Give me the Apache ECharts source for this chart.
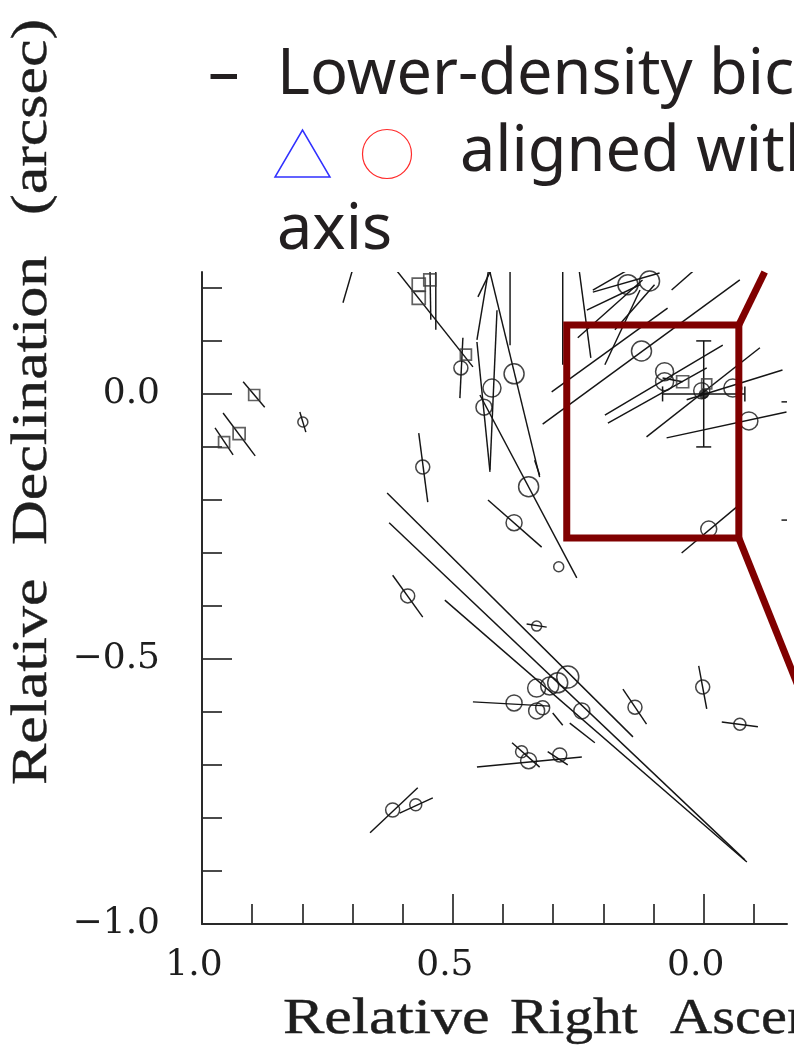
<!DOCTYPE html>
<html>
<head>
<meta charset="utf-8">
<script src="https://cdn.jsdelivr.net/npm/echarts@6/dist/echarts.min.js"></script>
<style>
  html, body { margin: 0; padding: 0; background: #ffffff; }
  #chart { width: 794px; height: 1049px; }
</style>
</head>
<body>
<div id="chart"></div>
<script>
// Axis tick values (arcsec)
const raMajor = [1.0, 0.5, 0.0];
const raMinor = [0.9, 0.8, 0.7, 0.6, 0.4, 0.3, 0.2, 0.1, -0.1];
const decMajor = [0.0, -0.5, -1.0];
const decMinor = [0.2, 0.1, -0.1, -0.2, -0.3, -0.4, -0.6, -0.7, -0.8, -0.9];

// Maser spots drawn as circles: [RA offset, Dec offset, relative peak]
const circleSpots = [
  [0.484, 0.049, 7], [0.422, 0.011, 9], [0.378, 0.038, 10], [0.438, -0.025, 8],
  [0.560, -0.138, 7], [0.349, -0.175, 10], [0.378, -0.243, 8], [0.289, -0.326, 5],
  [0.590, -0.381, 7], [0.333, -0.438, 5], [0.799, -0.053, 5], [0.271, -0.534, 11],
  [0.291, -0.545, 10], [0.307, -0.551, 9], [0.333, -0.555, 9], [0.378, -0.583, 8],
  [0.333, -0.598, 8], [0.321, -0.592, 7], [0.243, -0.598, 8], [0.363, -0.675, 6],
  [0.349, -0.692, 8], [0.287, -0.681, 7], [0.137, -0.591, 7], [0.002, -0.553, 7],
  [-0.072, -0.623, 6], [0.620, -0.785, 7], [0.574, -0.775, 6], [0.124, 0.081, 10],
  [0.078, 0.042, 9], [0.078, 0.023, 9], [-0.058, 0.011, 9], [-0.090, -0.051, 9],
  [-0.010, -0.255, 8], [0.004, 0.006, 8], [0.151, 0.206, 10], [0.108, 0.213, 10]
];

// Maser spots drawn as squares: [RA offset, Dec offset, relative peak]
const squareSpots = [
  [0.896, -0.002, 5.5], [0.926, -0.075, 6], [0.956, -0.091, 5.5], [0.568, 0.206, 6.5],
  [0.568, 0.181, 6.5], [0.546, 0.215, 6], [0.474, 0.074, 5.5], [0.042, 0.023, 6],
  [-0.006, 0.019, 5]
];

// Reference spot and its position uncertainty [RA err, Dec err]
const refSpot = [[0.0, 0.0]];
const refError = [0.082, 0.1];

// Polarization vectors: [RA start, Dec start, RA end, Dec end]
const vectors = [
  [0.918, 0.023, 0.875, -0.025], [0.958, -0.036, 0.894, -0.117], [0.974, -0.064, 0.938, -0.115],
  [0.805, -0.034, 0.793, -0.072], [0.719, 0.172, 0.692, 0.260], [0.629, 0.253, 0.460, 0.051],
  [0.534, 0.260, 0.534, 0.121], [0.546, 0.260, 0.544, 0.140], [0.480, 0.106, 0.486, -0.008],
  [0.568, -0.074, 0.550, -0.204], [0.450, 0.183, 0.414, 0.253], [0.452, 0.098, 0.426, -0.147],
  [0.412, 0.158, 0.426, -0.143], [0.432, 0.253, 0.327, -0.157], [0.446, -0.002, 0.253, -0.347],
  [0.386, 0.260, 0.386, 0.092], [0.281, 0.260, 0.281, 0.055], [0.251, 0.253, 0.225, 0.068],
  [0.337, -0.125, 0.327, -0.153], [0.430, -0.200, 0.323, -0.289], [0.620, -0.342, 0.560, -0.421],
  [0.353, -0.434, 0.313, -0.440], [0.631, -0.187, 0.141, -0.647], [0.627, -0.243, -0.082, -0.879],
  [0.516, -0.389, -0.086, -0.883], [0.460, -0.581, 0.307, -0.589], [0.452, -0.704, 0.243, -0.685],
  [0.382, -0.658, 0.327, -0.704], [0.311, -0.675, 0.271, -0.700], [0.161, -0.557, 0.114, -0.623],
  [0.010, -0.513, -0.006, -0.594], [-0.036, -0.619, -0.108, -0.628], [0.044, -0.300, -0.066, -0.213],
  [0.267, -0.621, 0.217, -0.658], [0.301, -0.602, 0.281, -0.625], [0.665, -0.828, 0.570, -0.743],
  [0.606, -0.791, 0.540, -0.762], [0.321, -0.057, -0.072, 0.215], [0.303, 0.004, 0.072, 0.162],
  [0.197, -0.040, -0.038, 0.092], [0.191, -0.055, -0.006, 0.049], [0.114, -0.081, -0.112, 0.087],
  [0.074, -0.083, -0.165, -0.034], [0.034, -0.011, -0.157, 0.045], [0.221, 0.196, 0.140, 0.240],
  [0.064, 0.196, 0.005, 0.245], [0.197, 0.055, 0.127, 0.196], [0.251, 0.106, 0.122, 0.215],
  [-0.155, -0.015, -0.200, -0.015], [-0.155, -0.238, -0.200, -0.238], [0.233, 0.158, 0.127, 0.206],
  [0.177, 0.121, 0.098, 0.206], [0.452, 0.102, 0.426, 0.250], [0.221, 0.192, 0.088, 0.228],
  [0.082, 0.030, 0.042, 0.023]
];

// Highlighted region [RA left, Dec top, RA right, Dec bottom] and leader line ends
const zoomBox = [0.273, 0.130, -0.070, -0.272];
const leaderEnds = [[-0.1215, 0.230], [-0.199, -0.577]];

const INK = '#151515';
const AXIS_INK = '#2a2a2a';
const BOX_RED = '#800000';

const chart = echarts.init(document.getElementById('chart'), null, { renderer: 'canvas' });

const fmtTick = v => {
  const s = Math.abs(v).toFixed(1);
  return v < -1e-9 ? '\u2212' + s : s;
};

const serif = '"Liberation Serif", "DejaVu Serif", serif';
const sans = '"Noto Sans", "Open Sans", sans-serif';

function axisWord(text, x, y, rot, sx) {
  return {
    type: 'text', x: x, y: y, rotation: rot, scaleX: sx, scaleY: 1,
    style: { text: text, font: '50px ' + serif, fill: '#1e1e1e', align: 'left', verticalAlign: 'middle',
             stroke: '#1e1e1e', lineWidth: 0.4 }
  };
}

const option = {
  backgroundColor: '#ffffff',
  animation: false,
  grid: { left: 202, top: 272, width: 585, height: 652, containLabel: false },
  xAxis: [
    {
      type: 'value', inverse: true, min: -0.166, max: 1.0, position: 'bottom',
      splitLine: { show: false },
      axisLine: { show: true, onZero: false, lineStyle: { color: AXIS_INK, width: 2 } },
      axisTick: { show: true, inside: true, length: 30, customValues: raMajor, lineStyle: { color: AXIS_INK, width: 1.7 } },
      axisLabel: {
        show: true, customValues: raMajor, formatter: fmtTick, margin: 24,
        fontFamily: '"DejaVu Serif", serif', fontSize: 36, color: '#1e1e1e', padding: [0, 16, 0, 0]
      }
    },
    {
      type: 'value', inverse: true, min: -0.166, max: 1.0, position: 'bottom', offset: 0,
      splitLine: { show: false },
      axisLine: { show: false, onZero: false },
      axisTick: { show: true, inside: true, length: 20, customValues: raMinor, lineStyle: { color: AXIS_INK, width: 1.7 } },
      axisLabel: { show: false }
    }
  ],
  yAxis: [
    {
      type: 'value', min: -1.0, max: 0.23, position: 'left',
      splitLine: { show: false },
      axisLine: { show: true, onZero: false, lineStyle: { color: AXIS_INK, width: 2 } },
      axisTick: { show: true, inside: true, length: 30, customValues: decMajor, lineStyle: { color: AXIS_INK, width: 1.7 } },
      axisLabel: {
        show: true, customValues: decMajor, formatter: fmtTick, margin: 42,
        fontFamily: '"DejaVu Serif", serif', fontSize: 36, color: '#1e1e1e'
      }
    },
    {
      type: 'value', min: -1.0, max: 0.23, position: 'left', offset: 0,
      splitLine: { show: false },
      axisLine: { show: false, onZero: false },
      axisTick: { show: true, inside: true, length: 20, customValues: decMinor, lineStyle: { color: AXIS_INK, width: 1.7 } },
      axisLabel: { show: false }
    }
  ],
  series: [
    {
      name: 'vectors', type: 'custom', coordinateSystem: 'cartesian2d', clip: true, silent: true,
      data: vectors,
      renderItem: (params, api) => {
        const a = api.coord([api.value(0), api.value(1)]);
        const b = api.coord([api.value(2), api.value(3)]);
        return { type: 'line', shape: { x1: a[0], y1: a[1], x2: b[0], y2: b[1] },
                 style: { stroke: INK, lineWidth: 1.45 } };
      }
    },
    {
      name: 'circles', type: 'scatter', clip: true, silent: true,
      data: circleSpots, symbol: 'circle',
      symbolSize: v => v[2] * 2,
      itemStyle: { color: 'rgba(0,0,0,0)', borderColor: INK, borderWidth: 1.5 }
    },
    {
      name: 'squares', type: 'scatter', clip: true, silent: true,
      data: squareSpots, symbol: 'rect',
      symbolSize: v => v[2] * 2,
      itemStyle: { color: 'rgba(0,0,0,0)', borderColor: '#3a3a3a', borderWidth: 1.7 }
    },
    {
      name: 'reference', type: 'scatter', clip: true, silent: true,
      data: refSpot, symbol: 'circle', symbolSize: 10,
      itemStyle: { color: '#111111' }
    },
    {
      name: 'refError', type: 'custom', coordinateSystem: 'cartesian2d', clip: true, silent: true,
      data: [[refSpot[0][0], refSpot[0][1], refError[0], refError[1]]],
      renderItem: (params, api) => {
        const x = api.value(0), y = api.value(1), ex = api.value(2), ey = api.value(3);
        const top = api.coord([x, y + ey]), bot = api.coord([x, y - ey]);
        const lft = api.coord([x + ex, y]), rgt = api.coord([x - ex, y]);
        const cap = 7.5;
        const st = { stroke: INK, lineWidth: 1.5 };
        return {
          type: 'group',
          children: [
            { type: 'line', shape: { x1: top[0], y1: top[1], x2: bot[0], y2: bot[1] }, style: st },
            { type: 'line', shape: { x1: top[0] - cap, y1: top[1], x2: top[0] + cap, y2: top[1] }, style: st },
            { type: 'line', shape: { x1: bot[0] - cap, y1: bot[1], x2: bot[0] + cap, y2: bot[1] }, style: st },
            { type: 'line', shape: { x1: lft[0], y1: lft[1], x2: rgt[0], y2: rgt[1] }, style: st },
            { type: 'line', shape: { x1: lft[0], y1: lft[1] - cap, x2: lft[0], y2: lft[1] + cap }, style: st },
            { type: 'line', shape: { x1: rgt[0], y1: rgt[1] - cap, x2: rgt[0], y2: rgt[1] + cap }, style: st }
          ]
        };
      }
    },
    {
      name: 'zoomBox', type: 'custom', coordinateSystem: 'cartesian2d', clip: false, silent: true, z: 10,
      data: [zoomBox],
      renderItem: (params, api) => {
        const tl = api.coord([api.value(0), api.value(1)]);
        const br = api.coord([api.value(2), api.value(3)]);
        const tr = [br[0], tl[1]];
        const e1 = api.coord(leaderEnds[0]);
        const e2 = api.coord(leaderEnds[1]);
        const st = { stroke: BOX_RED, lineWidth: 7, fill: null, lineJoin: 'miter' };
        return {
          type: 'group',
          children: [
            { type: 'rect', shape: { x: tl[0], y: tl[1], width: br[0] - tl[0], height: br[1] - tl[1] }, style: st },
            { type: 'line', shape: { x1: tr[0], y1: tr[1], x2: e1[0], y2: e1[1] }, style: st },
            { type: 'line', shape: { x1: br[0], y1: br[1], x2: e2[0], y2: e2[1] }, style: st }
          ]
        };
      }
    }
  ],
  graphic: [
    // slide bullet text
    { type: 'text', x: 208, y: 76, style: { text: '\u2013', font: '63px ' + sans, fill: '#231f20', verticalAlign: 'middle' } },
    { type: 'text', x: 277, y: 76, style: { text: 'Lower-density bic', font: '63px ' + sans, fill: '#231f20', verticalAlign: 'middle' } },
    { type: 'polygon', shape: { points: [[275, 177], [330, 177], [302.5, 130]] }, style: { stroke: '#3030ff', lineWidth: 1.5, fill: null } },
    { type: 'circle', shape: { cx: 387, cy: 154, r: 24.5 }, style: { stroke: '#ff2a2a', lineWidth: 1.2, fill: null } },
    { type: 'text', x: 460, y: 153, style: { text: 'aligned with', font: '63px ' + sans, fill: '#231f20', verticalAlign: 'middle' } },
    { type: 'text', x: 277, y: 231, style: { text: 'axis', font: '63px ' + sans, fill: '#231f20', verticalAlign: 'middle' } },
    // axis titles
    axisWord('Relative', 283, 1020, 0, 1.24),
    axisWord('Right', 510, 1020, 0, 1.15),
    axisWord('Ascension', 670, 1020, 0, 1.17),
    axisWord('Relative', 33, 785, Math.PI / 2, 1.24),
    axisWord('Declination', 33, 545, Math.PI / 2, 1.24),
    axisWord('(arcsec)', 33, 215, Math.PI / 2, 1.24)
  ]
};

chart.setOption(option);
</script>
</body>
</html>
